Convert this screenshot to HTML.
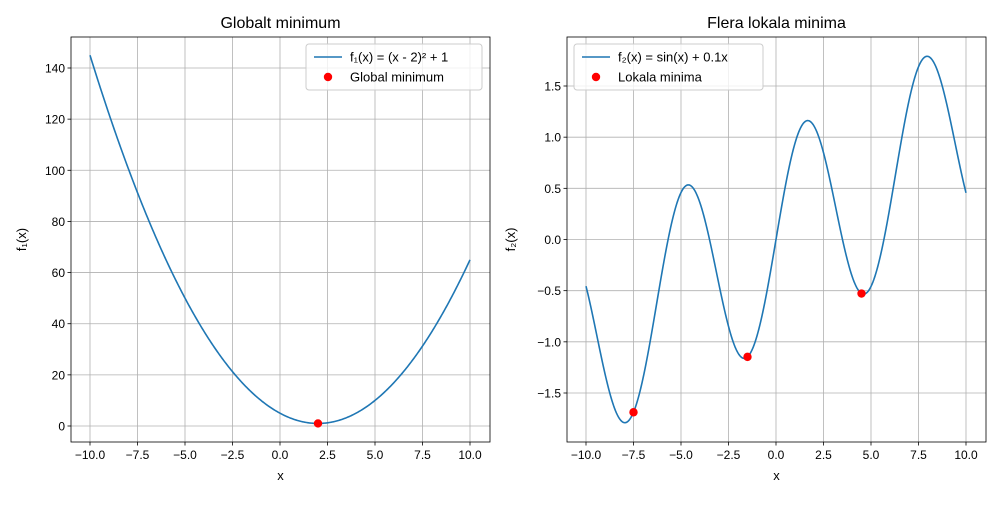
<!DOCTYPE html>
<html><head><meta charset="utf-8"><style>
body{margin:0;background:#fff}
svg{font-family:"Liberation Sans","DejaVu Sans",sans-serif}
</style></head><body>
<svg id="c" width="1000" height="500" xmlns="http://www.w3.org/2000/svg"></svg>
<script>
const xTicks=[-10,-7.5,-5,-2.5,0,2.5,5,7.5,10];
const xTickLabels=["−10.0","−7.5","−5.0","−2.5","0.0","2.5","5.0","7.5","10.0"];
const y1Ticks=[0,20,40,60,80,100,120,140];
const y2Ticks=[-1.5,-1.0,-0.5,0,0.5,1.0,1.5];
const y2TickLabels=["−1.5","−1.0","−0.5","0.0","0.5","1.0","1.5"];
const globalMinX=[2];
const globalMinY=[1];
const localMinX=[-7.5,-1.5,4.5];
const localMinY=[-1.688,-1.147,-0.528];

const NS="http://www.w3.org/2000/svg";
const svg=document.getElementById('c');
function el(t,a,p){const e=document.createElementNS(NS,t);for(const k in a)e.setAttribute(k,a[k]);(p||svg).appendChild(e);return e;}
function txt(s,a,p){const e=el('text',a,p);e.textContent=s;return e;}

function panel(o){
  const g=el('g',{});
  
  
  const sx=v=>o.x0+(v-(-10))*(o.x1-o.x0)/20;
  const sy=v=>o.yA+(v-o.vA)*(o.yB-o.yA)/(o.vB-o.vA);
  xTicks.forEach((v,i)=>{
    const X=sx(v);
    const gl=el('line',{x1:X,x2:X,y1:o.top,y2:o.bot,stroke:'#b0b0b0','stroke-width':0.8},g);
    
    el('line',{x1:X,x2:X,y1:o.bot,y2:o.bot+3.5,stroke:'#000','stroke-width':0.8},g);
    const t=txt(xTickLabels[i],{x:X,y:o.bot+17,'font-size':12,'text-anchor':'middle'},g);
    
  });
  o.yTicks.forEach((v,i)=>{
    const Y=sy(v);
    const gl=el('line',{x1:o.left,x2:o.right,y1:Y,y2:Y,stroke:'#b0b0b0','stroke-width':0.8},g);
    
    el('line',{x1:o.left-3.5,x2:o.left,y1:Y,y2:Y,stroke:'#000','stroke-width':0.8},g);
    const t=txt(o.yLabels[i],{x:o.left-6,y:Y+4.5,'font-size':12,'text-anchor':'end'},g);
    
  });
  let d='';
  for(let i=0;i<=400;i++){const x=-10+20*i/400;d+=(i?'L':'M')+sx(x).toFixed(2)+','+sy(o.f(x)).toFixed(2);}
  const p=el('path',{d:d,fill:'none',stroke:'#1f77b4','stroke-width':1.6},g);
  
  o.mx.forEach((v,i)=>{
    const c=el('circle',{cx:sx(v),cy:sy(o.my[i]),r:4.2,fill:'#ff0000'},g);
    
  });
  const fr=el('rect',{x:o.left,y:o.top,width:o.right-o.left,height:o.bot-o.top,fill:'none',stroke:'#000','stroke-width':0.8},g);
  
  const ti=txt(o.title,{x:(o.left+o.right)/2,y:28,'font-size':16,'text-anchor':'middle'},g);
  
  const xl=txt('x',{x:(o.left+o.right)/2,y:480,'font-size':13,'text-anchor':'middle'},g);
  
  const yl=txt(o.ylabel,{x:0,y:0,'font-size':13,'text-anchor':'middle',transform:`translate(${o.left-o.ylOff},${(o.top+o.bot)/2}) rotate(-90)`},g);
  
  const L=el('g',{},g);
  
  el('rect',{x:o.lx,y:44,width:o.lw,height:46,rx:3,fill:'#fff','fill-opacity':0.8,stroke:'#ccc','stroke-width':1},L);
  el('line',{x1:o.lx+8,x2:o.lx+36,y1:57,y2:57,stroke:'#1f77b4','stroke-width':1.6},L);
  const t1=txt(o.leg1,{x:o.lx+44,y:61.5,'font-size':13},L);
  
  el('circle',{cx:o.lx+22,cy:77,r:4.2,fill:'#ff0000'},L);
  const t2=txt(o.leg2,{x:o.lx+44,y:81.5,'font-size':13},L);
  
}
panel({name:'left-chart',left:71,right:490,top:37,bot:442,x0:90,x1:470,yA:426,vA:0,yB:68,vB:140,
  yTicks:y1Ticks,yLabels:y1Ticks.map(String),f:x=>(x-2)*(x-2)+1,mx:globalMinX,my:globalMinY,
  title:'Globalt minimum',ylabel:'f₁(x)',ylOff:45,lx:306,lw:176,leg1:'f₁(x) = (x - 2)² + 1',leg2:'Global minimum'});
panel({name:'right-chart',left:567,right:986,top:37,bot:442,x0:586,x1:966,yA:393,vA:-1.5,yB:86,vB:1.5,
  yTicks:y2Ticks,yLabels:y2TickLabels,f:x=>Math.sin(x)+0.1*x,mx:localMinX,my:localMinY,
  title:'Flera lokala minima',ylabel:'f₂(x)',ylOff:52,lx:574,lw:189,leg1:'f₂(x) = sin(x) + 0.1x',leg2:'Lokala minima'});
</script>
</body></html>
